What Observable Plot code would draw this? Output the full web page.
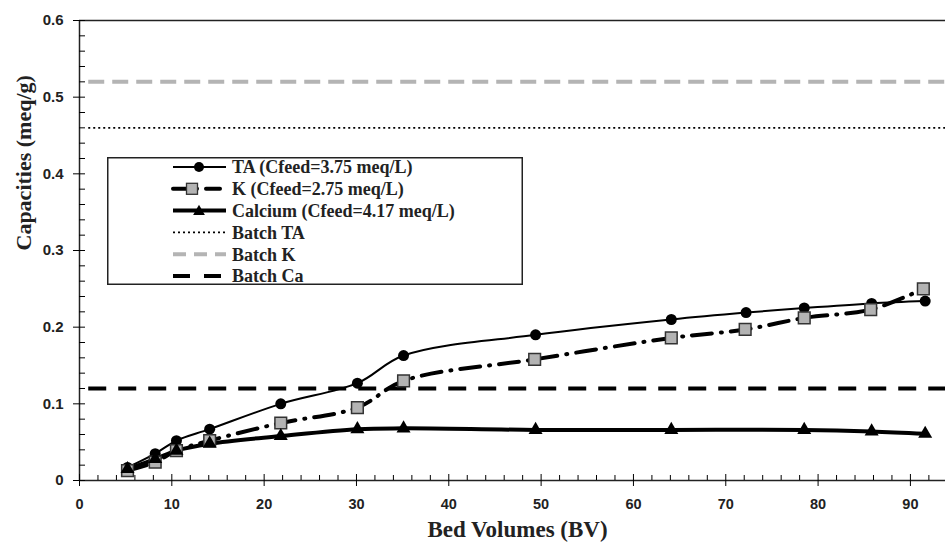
<!DOCTYPE html>
<html>
<head>
<meta charset="utf-8">
<script src="https://cdn.jsdelivr.net/npm/d3@7"></script>
<script src="https://cdn.jsdelivr.net/npm/@observablehq/plot@0.6"></script>
<style>
  html, body { margin: 0; padding: 0; background: white; }
  #wrap { position: relative; width: 945px; height: 546px; }
  #legend { position: absolute; left: 107px; top: 157px; overflow: visible; }
</style>
</head>
<body>
<div id="wrap"></div>
<script>
// ---- data ----
const bvTA  = [5.2, 8.2, 10.5, 14.1, 21.8, 30.1, 35.1, 49.4, 64.1, 72.2, 78.5, 85.8, 91.6];
const capTA = [0.017, 0.035, 0.052, 0.067, 0.100, 0.127, 0.163, 0.190, 0.210, 0.219, 0.225, 0.231, 0.234];
const bvK   = [5.2, 8.2, 10.5, 14.1, 21.8, 30.1, 35.1, 49.3, 64.1, 72.1, 78.5, 85.7, 91.4];
const capK  = [0.013, 0.024, 0.039, 0.052, 0.075, 0.095, 0.130, 0.158, 0.186, 0.197, 0.212, 0.223, 0.250];
const bvCa  = [5.2, 8.2, 10.5, 14.1, 21.8, 30.1, 35.1, 49.4, 64.1, 78.5, 85.8, 91.6];
const capCa = [0.015, 0.028, 0.039, 0.048, 0.058, 0.067, 0.068, 0.066, 0.066, 0.066, 0.064, 0.061];
const batchNames  = ["Batch TA", "Batch K", "Batch Ca"];
const batchValues = [0.46, 0.52, 0.12];
const seriesNames = ["TA (Cfeed=3.75 meq/L)", "K (Cfeed=2.75 meq/L)", "Calcium (Cfeed=4.17 meq/L)"];
const xTicks = [0, 10, 20, 30, 40, 50, 60, 70, 80, 90];
const yTicks = [0, 0.1, 0.2, 0.3, 0.4, 0.5, 0.6];
const xLabel = "Bed Volumes (BV)";
const yLabel = "Capacities (meq/g)";

const toRows = (xs, ys) => xs.map((x, i) => ({x, y: ys[i]}));
const ta = toRows(bvTA, capTA);
const k  = toRows(bvK, capK);
const ca = toRows(bvCa, capCa);
const batch = batchNames.map((n, i) => ({name: n, value: batchValues[i]}));

const xMinor = d3.range(0, 94, 2).filter(v => v % 10 !== 0);
const yMinor = d3.range(0, 0.6001, 0.02).map(v => +v.toFixed(2)).filter(v => Math.round(v * 100) % 10 !== 0);

const serif = "'Liberation Serif', 'DejaVu Serif', serif";
const sans = "'Liberation Sans', Arial, sans-serif";
const blank = () => "";

const styleBatch = {
  "Batch TA": {stroke: "black", strokeWidth: 1.8, strokeDasharray: "2,3"},
  "Batch K":  {stroke: "#b4b4b4", strokeWidth: 4, strokeDasharray: "16,8"},
  "Batch Ca": {stroke: "black", strokeWidth: 4, strokeDasharray: "18,12"}
};

const plot = Plot.plot({
  width: 945,
  height: 546,
  marginLeft: 79,
  marginRight: 0,
  marginTop: 20,
  marginBottom: 66,
  x: {domain: [0, 93.8]},
  y: {domain: [0, 0.6]},
  style: {background: "white", fontFamily: sans},
  marks: [
    ...batch.map(b => Plot.ruleY([b], {y: "value", x1: 1, x2: 93.8, ...styleBatch[b.name]})),
    Plot.line(ta, {x: "x", y: "y", curve: "catmull-rom", stroke: "black", strokeWidth: 2}),
    Plot.line(k, {x: "x", y: "y", curve: "catmull-rom", stroke: "black", strokeWidth: 4, strokeDasharray: "20,9,1,9", strokeLinecap: "round"}),
    Plot.line(ca, {x: "x", y: "y", curve: "catmull-rom", stroke: "black", strokeWidth: 4}),
    Plot.dot(ta, {x: "x", y: "y", r: 5.5, fill: "black", symbol: "circle"}),
    Plot.dot(k, {x: "x", y: "y", r: 6.6, fill: "#b3b3b3", stroke: "#333", strokeWidth: 1.5, symbol: "square"}),
    Plot.dot(ca, {x: "x", y: "y", r: 5.2, fill: "black", symbol: "triangle"}),
    // axes
    Plot.ruleY([0.6], {stroke: "#222", strokeWidth: 1.3}),
    Plot.ruleX([0], {stroke: "#222", strokeWidth: 1.5}),
    Plot.ruleY([0], {stroke: "#222", strokeWidth: 1.5}),
    Plot.axisX({ticks: xTicks, tickSize: 6, tickPadding: 12, tickFormat: d => String(d), fontSize: 14.5, fontWeight: "bold", fill: "#222", label: null}),
    Plot.axisX({ticks: xTicks, tickSize: -6, tickFormat: blank, label: null}),
    Plot.axisX({ticks: xMinor, tickSize: -5, tickFormat: blank, label: null}),
    Plot.axisY({ticks: yTicks, tickSize: 6, tickPadding: 10, tickFormat: d => d === 0 ? "0" : d.toFixed(1), fontSize: 15, fontWeight: "bold", fill: "#222", label: null}),
    Plot.axisY({ticks: yTicks, tickSize: -6, tickFormat: blank, label: null}),
    Plot.axisY({ticks: yMinor, tickSize: -6, tickFormat: blank, label: null}),
    Plot.text([xLabel], {text: d => d, frameAnchor: "bottom", dy: 56, dx: 5, fontFamily: serif, fontWeight: "bold", fontSize: 23, fill: "#222"}),
    Plot.text([yLabel], {text: d => d, frameAnchor: "left", rotate: -90, dx: -56, fontFamily: serif, fontWeight: "bold", fontSize: 22, fill: "#222"})
  ]
});

const wrap = document.getElementById("wrap");
wrap.appendChild(plot);

// ---- legend ----
const legendEntries = [
  {name: seriesNames[0], stroke: "black", sw: 2, dash: null, marker: "circle"},
  {name: seriesNames[1], stroke: "black", sw: 4, dash: "14,9,1,9", marker: "square"},
  {name: seriesNames[2], stroke: "black", sw: 4, dash: null, marker: "triangle"},
  {name: batchNames[0], stroke: "black", sw: 1.8, dash: "2,3", marker: null},
  {name: batchNames[1], stroke: "#b4b4b4", sw: 4, dash: "13,8", marker: null},
  {name: batchNames[2], stroke: "black", sw: 4, dash: "17,14", marker: null}
];
const W = 416, H = 128;
const svg = d3.create("svg").attr("width", W).attr("height", H + 14).attr("id", "legend");
svg.append("rect").attr("x", 0.75).attr("y", 0.75).attr("width", W - 1.5).attr("height", H - 1.5)
  .attr("fill", "white").attr("stroke", "#222").attr("stroke-width", 1.5);
legendEntries.forEach((e, i) => {
  const cy = 10 + i * 21.8;
  const g = svg.append("g");
  g.append("line").attr("x1", 66).attr("x2", 119).attr("y1", cy).attr("y2", cy)
    .attr("stroke", e.stroke).attr("stroke-width", e.sw)
    .attr("stroke-dasharray", e.dash).attr("stroke-linecap", e.dash && e.dash.includes(",1,") ? "round" : null);
  const cx = 92;
  if (e.marker === "circle") g.append("circle").attr("cx", cx).attr("cy", cy).attr("r", 5).attr("fill", "black");
  if (e.marker === "square") g.append("rect").attr("x", cx - 5.5 - 7).attr("y", cy - 5.5).attr("width", 11).attr("height", 11)
    .attr("fill", "#b3b3b3").attr("stroke", "#333").attr("stroke-width", 1.3);
  if (e.marker === "triangle") g.append("path").attr("d", d3.symbol(d3.symbolTriangle, 60)()).attr("transform", `translate(${cx},${cy + 1})`).attr("fill", "black");
  g.append("text").attr("x", 125).attr("y", cy).attr("dy", "0.35em")
    .attr("font-family", serif).attr("font-weight", "bold").attr("font-size", 18).attr("fill", "#222")
    .text(e.name);
});
wrap.appendChild(svg.node());
</script>
</body>
</html>
